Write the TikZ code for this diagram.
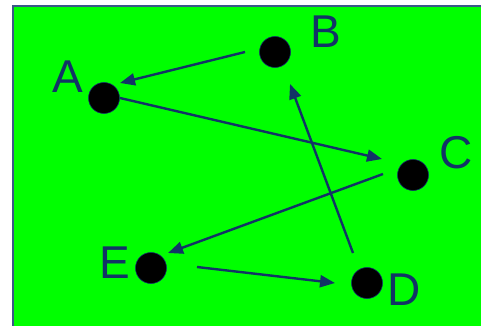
\documentclass[tikz,border=0pt]{standalone}
\usepackage{fontspec}
\setmainfont{Liberation Sans}
\usetikzlibrary{arrows.meta,calc}
\definecolor{navy}{RGB}{18,52,102}
\definecolor{edgeblue}{RGB}{58,88,135}
\definecolor{bggreen}{RGB}{0,255,0}
\tikzset{
  dot/.style={circle, fill=black, draw=navy, line width=0.6pt, minimum size=31pt, inner sep=0pt},
  lbl/.style={text=navy, inner sep=0pt, font=\fontsize{46}{50}\selectfont},
  arr/.style={-{Triangle[length=15pt,width=12pt]}, draw=navy, line width=2.4pt}
}
\begin{document}
\begin{tikzpicture}[x=1pt,y=-1pt]
    \useasboundingbox (0,0) rectangle (481,326);
    \fill[bggreen] (13,6) rectangle (481,326);
    \draw[edgeblue, line width=2pt] (13,326) -- (13,6) -- (481,6);
    \node[dot] (A) at (104,98) {};
    \node[dot] (B) at (275,52) {};
    \node[dot] (C) at (413,175) {};
    \node[dot] (D) at (367,283) {};
    \node[dot] (E) at (151,268) {};
    \node[lbl] (la) at (68,77) {A};
    \node[lbl] (lb) at (326,32) {B};
    \node[lbl] (lc) at (456,153) {C};
    \node[lbl] (ld) at (404,290) {D};
    \node[lbl] (le) at (115,263) {E};
    \draw[arr] ($(B)+(-30,0)$) -- ($(A)+(16,-15)$);
    \draw[arr] ($(A)+(16,0)$) -- ($(C)+(-31,-16)$);
    \draw[arr] ($(C)+(-30,-1)$) -- ($(E)+(17,-15)$);
    \draw[arr] ($(E)+(46,-1)$) -- ($(D)+(-32,0)$);
    \draw[arr] ($(D)+(-14,-30)$) -- ($(B)+(15,32)$);
\end{tikzpicture}
\end{document}
